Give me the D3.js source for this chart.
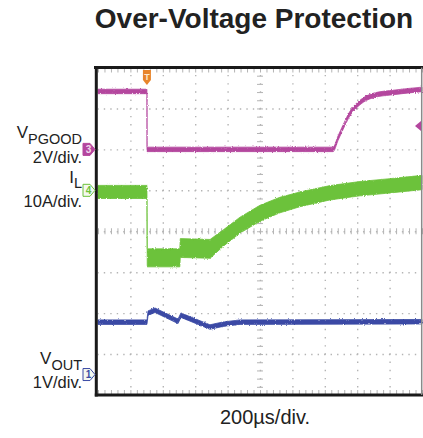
<!DOCTYPE html>
<html>
<head>
<meta charset="UTF-8">
<script src="https://cdn.jsdelivr.net/npm/d3@7/dist/d3.min.js"></script>
<style>
body{
    margin:0;
    background:#fff;
    font-family:"Liberation Sans", Arial, Helvetica, sans-serif;
}
.grid path, .ticks path{ display:none; }
.grid line{ stroke:#b4b4b4; stroke-width:1.4; }
.ticks line{ stroke:#b4b4b4; stroke-width:1; }
</style>
</head>
<body>
<script>

// time base: 200us/div, 10 divisions
var timeGrid = d3.range(0, 2001, 200);
var divGrid = d3.range(0, 9, 1);

// CH3 PGOOD (V)
var pgTime  = [0, 302, 303, 1451, 1482, 1512, 1556, 1617, 1698, 1821, 2000];
var pgVolts = [2.83, 2.83, 0, 0, 0.55, 1.07, 1.76, 2.29, 2.63, 2.78, 2.93];

// CH4 inductor current (A), centre + noise spread
var ilTime   = [0, 302, 304, 505, 508, 692, 772, 877, 1000, 1123, 1247, 1432, 1617, 1802, 2000];
var ilAmps   = [-0.4, -0.4, -16.5, -16.5, -14.1, -14.3, -11.7, -8.5, -5.6, -3.6, -2.2, -0.6, 0.4, 1.1, 1.9];
var ilSpread = [3.2, 3.2, 4.4, 4.4, 4.6, 4.6, 4.0, 3.9, 3.9, 3.8, 3.6, 3.5, 3.5, 3.5, 3.5];

// CH1 VOUT (V)
var voTime  = [0, 302, 309, 352, 494, 512, 691, 772, 877, 2000];
var voVolts = [1.28, 1.28, 1.50, 1.57, 1.30, 1.45, 1.16, 1.23, 1.28, 1.29];

var channels = [
    {id:"3", perDiv:2,  offset:6,   color:"#b4469e", band:4.5, time:pgTime, val:pgVolts, filled:true, curve:d3.curveMonotoneX},
    {id:"4", perDiv:10, offset:5,   color:"#6cc23a", band:0,   time:ilTime, val:ilAmps, spread:ilSpread, curve:d3.curveLinear},
    {id:"1", perDiv:1,  offset:0.5, color:"#3a4aa5", band:4.5, time:voTime, val:voVolts, curve:d3.curveLinear}
];

var width = 423, height = 438;

var x = d3.scaleLinear().domain([0, 2000]).range([98, 422]);
var y = d3.scaleLinear().domain([0, 8]).range([395, 67.5]);

var svg = d3.select("body").append("svg")
    .attr("width", width)
    .attr("height", height);

// scope-like ragged edge on the traces
var filt = svg.append("defs").append("filter")
    .attr("id", "noise")
    .attr("x", "-5%").attr("y", "-20%").attr("width", "110%").attr("height", "140%");
filt.append("feTurbulence")
    .attr("type", "fractalNoise").attr("baseFrequency", "0.9 0.6")
    .attr("numOctaves", 2).attr("seed", 3).attr("result", "turb");
filt.append("feDisplacementMap")
    .attr("in", "SourceGraphic").attr("in2", "turb")
    .attr("scale", 2.5).attr("xChannelSelector", "R").attr("yChannelSelector", "G");

// dotted graticule
var gX = svg.append("g")
    .attr("class", "grid")
    .attr("transform", "translate(0," + y(0) + ")")
    .call(d3.axisTop(x).tickValues(timeGrid.slice(1, -1)).tickSize(y(0) - y(8)).tickFormat(""));
gX.selectAll("line").attr("stroke-dasharray", "1.4," + (40.94/5 - 1.4)).attr("stroke-dashoffset", 0.7);

var gY = svg.append("g")
    .attr("class", "grid")
    .attr("transform", "translate(" + x(0) + ",0)")
    .call(d3.axisRight(y).tickValues(divGrid.slice(1, -1)).tickSize(x(2000) - x(0)).tickFormat(""));
gY.selectAll("line").attr("stroke-dasharray", "1.4," + (32.4/5 - 1.4)).attr("stroke-dashoffset", 0.7);

// minor ticks on centre lines and top/bottom edges
var minorT = d3.range(0, 2001, 40);
var minorD = d3.range(0, 8.01, 0.2);

svg.append("g").attr("class", "ticks")
    .attr("transform", "translate(0," + (y(4) - 3) + ")")
    .call(d3.axisBottom(x).tickValues(minorT).tickSize(6).tickFormat(""));
svg.append("g").attr("class", "ticks")
    .attr("transform", "translate(" + (x(1000) - 3) + ",0)")
    .call(d3.axisRight(y).tickValues(minorD).tickSize(6).tickFormat(""));
svg.append("g").attr("class", "ticks")
    .attr("transform", "translate(0," + y(0) + ")")
    .call(d3.axisTop(x).tickValues(minorT).tickSize(5).tickFormat(""));
svg.append("g").attr("class", "ticks")
    .attr("transform", "translate(0," + y(8) + ")")
    .call(d3.axisBottom(x).tickValues(minorT).tickSize(5).tickFormat(""));

// traces
channels.forEach(function(ch){
    var pts = ch.time.map(function(t, i){
        var half = ch.spread ? ch.spread[i] / 2 / ch.perDiv : 0;
        return {t:t, v:ch.offset + ch.val[i] / ch.perDiv, h:half};
    });
    var px = ch.band / 2;
    var area = d3.area()
        .x(function(d){ return x(d.t); })
        .y0(function(d){ return y(d.v - d.h) + px; })
        .y1(function(d){ return y(d.v + d.h) - px; })
        .curve(ch.curve);
    svg.append("path")
        .datum(pts)
        .attr("d", area)
        .attr("fill", ch.color)
        .attr("stroke", ch.color)
        .attr("stroke-width", 0.8)
        .attr("filter", "url(#noise)");
});

// frame
svg.append("line").attr("x1", 94).attr("x2", 423).attr("y1", y(8)).attr("y2", y(8))
    .attr("stroke", "#1a1a1a").attr("stroke-width", 3);
svg.append("line").attr("x1", 96.3).attr("x2", 96.3).attr("y1", y(8) - 1.5).attr("y2", y(0) + 1.5)
    .attr("stroke", "#1a1a1a").attr("stroke-width", 3);
svg.append("line").attr("x1", 94.8).attr("x2", 423).attr("y1", y(0)).attr("y2", y(0))
    .attr("stroke", "#1a1a1a").attr("stroke-width", 3);
svg.append("line").attr("x1", 421.7).attr("x2", 421.7).attr("y1", y(8)).attr("y2", y(0))
    .attr("stroke", "#8a8a8a").attr("stroke-width", 1.5);

// channel ground markers
channels.forEach(function(ch){
    var cy = y(ch.offset);
    var g = svg.append("g").attr("transform", "translate(0," + cy + ")");
    g.append("path")
        .attr("d", "M83,-6H90L95,0L90,6H83Z")
        .attr("fill", ch.filled ? ch.color : "#f4f8f0")
        .attr("stroke", ch.color)
        .attr("stroke-width", 1);
    g.append("text")
        .attr("x", 88.5).attr("y", 3.8)
        .attr("text-anchor", "middle")
        .attr("font-size", 10).attr("font-weight", "bold")
        .attr("fill", ch.filled ? "#f0d8ec" : ch.color)
        .text(ch.id);
});

// trigger position marker
var tx = x(302);
svg.append("path")
    .attr("d", "M" + (tx - 4) + ",70H" + (tx + 4) + "V80L" + tx + ",85L" + (tx - 4) + ",80Z")
    .attr("fill", "#e8852c");
svg.append("text")
    .attr("x", tx).attr("y", 80)
    .attr("text-anchor", "middle")
    .attr("font-size", 9).attr("font-weight", "bold")
    .attr("fill", "#fde8d0")
    .text("T");

// trigger level marker (right edge)
svg.append("path")
    .attr("d", "M421,121L415,126L421,131Z")
    .attr("fill", "#b4469e");

// title
svg.append("text")
    .attr("x", 254).attr("y", 28)
    .attr("text-anchor", "middle")
    .attr("font-size", 28).attr("font-weight", "bold")
    .attr("fill", "#222")
    .text("Over-Voltage Protection");

// channel labels
function chanLabel(main, sub, scale, yMain, ySub, yScale){
    var t = svg.append("text")
        .attr("x", 82).attr("y", yMain)
        .attr("text-anchor", "end")
        .attr("font-size", 17).attr("fill", "#222");
    t.append("tspan").text(main);
    t.append("tspan").attr("font-size", 14.5).attr("dy", ySub - yMain).text(sub);
    svg.append("text")
        .attr("x", 82).attr("y", yScale)
        .attr("text-anchor", "end")
        .attr("font-size", 16.5).attr("fill", "#222")
        .text(scale);
}
chanLabel("V", "PGOOD", "2V/div.", 138, 144.3, 162.5);
chanLabel("I", "L", "10A/div.", 183, 188.3, 206.5);
chanLabel("V", "OUT", "1V/div.", 364, 369.8, 388);

// time base label
svg.append("text")
    .attr("x", 265).attr("y", 424)
    .attr("text-anchor", "middle")
    .attr("font-size", 20).attr("fill", "#222")
    .text("200\u00b5s/div.");

</script>
</body>
</html>
